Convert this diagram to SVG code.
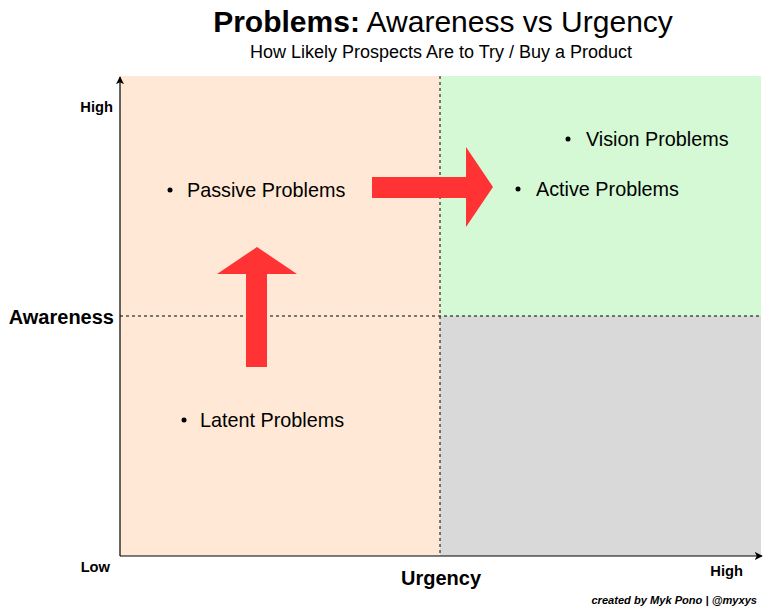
<svg xmlns="http://www.w3.org/2000/svg" width="769" height="612" viewBox="0 0 769 612">
<defs>
<style>
text{font-family:"Liberation Sans",Arial,sans-serif;fill:#000}
.lbl{font-size:19.8px}
.ax{font-size:14.7px;font-weight:bold}
.axt{font-size:20px;font-weight:bold}
.dash{stroke:#000;stroke-width:1;stroke-dasharray:3,3;fill:none}
.red{fill:#FF3333}
</style>
<marker id="ah" viewBox="0 0 10 10" refX="9" refY="5" markerWidth="8" markerHeight="8" markerUnits="userSpaceOnUse" orient="auto"><path d="M0,0 L10,5 L0,10 L2.5,5 Z" fill="#000"/></marker>
</defs>
<rect width="769" height="612" fill="#fff"/>
<g id="quadrants">
<rect x="120" y="76" width="320" height="480" fill="#FFE9D6"/>
<rect x="440" y="76" width="321" height="240" fill="#D5F9D5"/>
<rect x="440" y="316" width="321" height="240" fill="#D9D9D9"/>
</g>
<g id="title">
<text x="443" y="32" text-anchor="middle" font-size="30"><tspan font-weight="bold">Problems:</tspan> Awareness vs Urgency</text>
<text x="441" y="58" text-anchor="middle" font-size="18">How Likely Prospects Are to Try / Buy a Product</text>
</g>
<g id="connectors">
<line class="dash" x1="120" y1="316" x2="761" y2="316"/>
<line class="dash" x1="440" y1="76" x2="440" y2="556"/>
<line x1="120" y1="556" x2="120" y2="77" stroke="#000" stroke-width="1.2" marker-end="url(#ah)"/>
<line x1="120" y1="556" x2="762" y2="556" stroke="#000" stroke-width="1.2" marker-end="url(#ah)"/>
</g>
<g id="arrow-right"><path class="red" d="M372,177 H466 V147 L493,187 L466,227 V198 H372 Z"/></g>
<g id="arrow-up"><path class="red" d="M246,367 V274 H217 L257,247 L297,274 H267 V367 Z"/></g>
<g id="axis-labels">
<text class="ax" x="113" y="112" text-anchor="end">High</text>
<text class="axt" x="114" y="324" text-anchor="end">Awareness</text>
<text class="ax" x="110" y="572" text-anchor="end">Low</text>
<text class="axt" x="441" y="585" text-anchor="middle">Urgency</text>
<text class="ax" x="743" y="576" text-anchor="end">High</text>
<text x="757" y="604" text-anchor="end" font-size="11.1" font-weight="bold" font-style="italic">created by Myk Pono | @myxys</text>
</g>
<g id="node-passive"><circle cx="170" cy="190" r="2.5"/><text class="lbl" x="187" y="197">Passive Problems</text></g>
<g id="node-active"><circle cx="518" cy="189" r="2.5"/><text class="lbl" x="536" y="196">Active Problems</text></g>
<g id="node-vision"><circle cx="568" cy="139" r="2.5"/><text class="lbl" x="586" y="146">Vision Problems</text></g>
<g id="node-latent"><circle cx="184" cy="420" r="2.5"/><text class="lbl" x="200" y="427">Latent Problems</text></g>
</svg>
